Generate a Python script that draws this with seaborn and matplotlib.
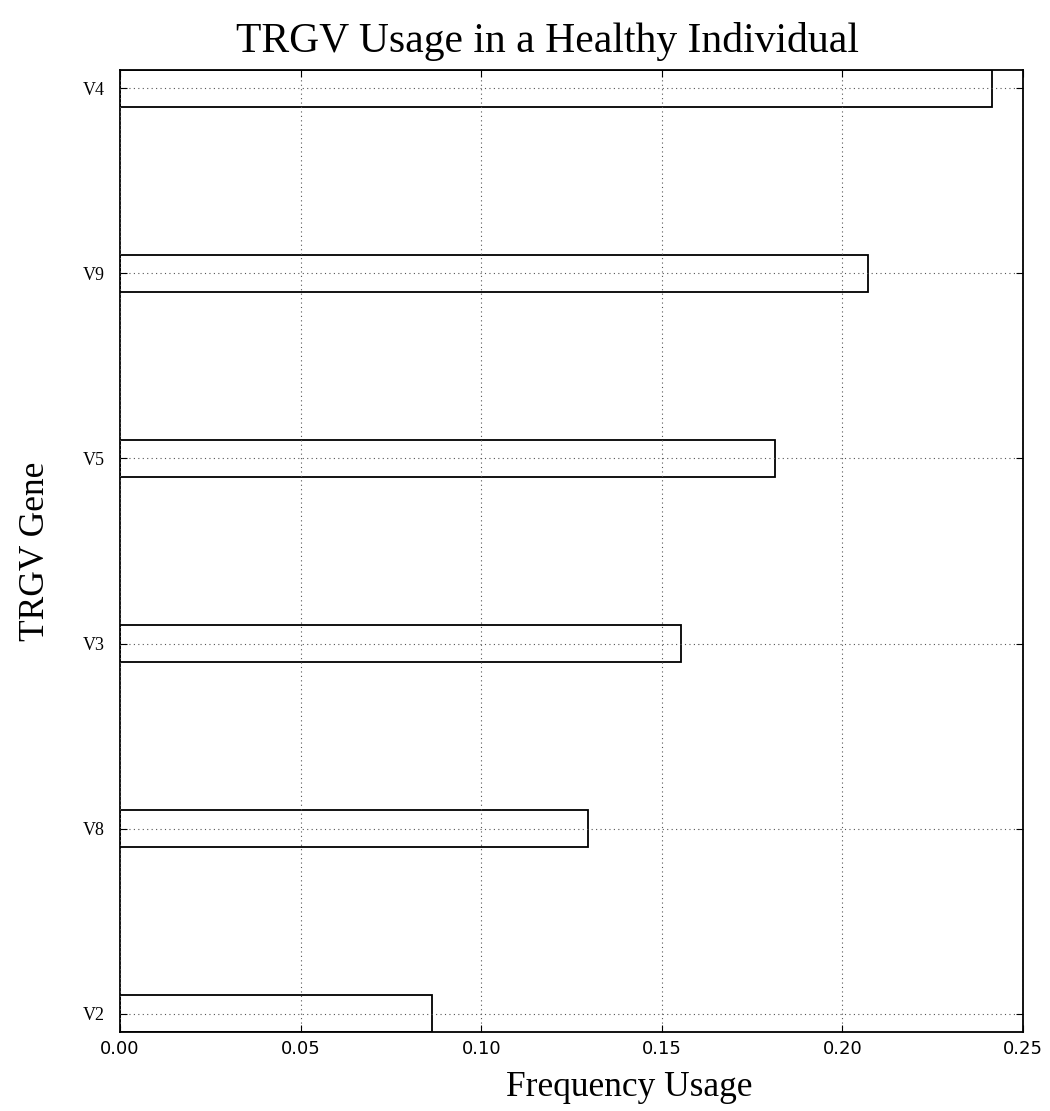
import matplotlib
matplotlib.use("Agg")
import matplotlib.pyplot as plt
import seaborn as sns
import pandas as pd

genes = ["V4", "V9", "V5", "V3", "V8", "V2"]
freq = [0.2414, 0.2071, 0.1813, 0.1553, 0.1296, 0.0864]
xticks = [0.00, 0.05, 0.10, 0.15, 0.20, 0.25]

df = pd.DataFrame({"gene": genes, "freq": freq})

sns.set_style("white")
plt.rcParams["font.family"] = ["DejaVu Sans"]
plt.rcParams["text.color"] = "black"
plt.rcParams["axes.labelcolor"] = "black"
plt.rcParams["xtick.color"] = "black"
plt.rcParams["ytick.color"] = "black"

fig = plt.figure(figsize=(10.5, 11.11), dpi=100)
ax = fig.add_axes([0.1143, 0.0711, 0.86, 0.8659])

sns.barplot(data=df, x="freq", y="gene", order=genes, orient="h",
            color="white", edgecolor="black", linewidth=1.3, width=0.2,
            ax=ax)

ax.set_xlim(0, 0.25)
ax.set_ylim(5.1, -0.1)
ax.set_xticks(xticks)
ax.set_xticklabels([f"{t:.2f}" for t in xticks], fontsize=13)
ax.set_yticks(range(len(genes)))
ax.set_yticklabels(genes, fontsize=13, family="Liberation Serif")

ax.set_axisbelow(False)
ax.grid(True, linestyle=(0, (1, 3)), color="#555555", linewidth=0.8)
for s in ax.spines.values():
    s.set_visible(True)
    s.set_color("black")
    s.set_linewidth(1.3)
ax.tick_params(direction="in", length=5, width=0.8, top=True, right=True,
               bottom=True, left=True, pad=6)
ax.tick_params(axis="y", pad=11)

ax.set_title("TRGV Usage in a Healthy Individual", fontsize=30,
             family="Liberation Serif", pad=13, color="black", x=0.473)
ax.set_xlabel("Frequency Usage", fontsize=25.5, family="Liberation Serif",
              labelpad=9, x=0.564)
ax.set_ylabel("TRGV Gene", fontsize=25.5, family="Liberation Serif", labelpad=22)

fig.savefig("out.png", dpi=100, facecolor="white")
